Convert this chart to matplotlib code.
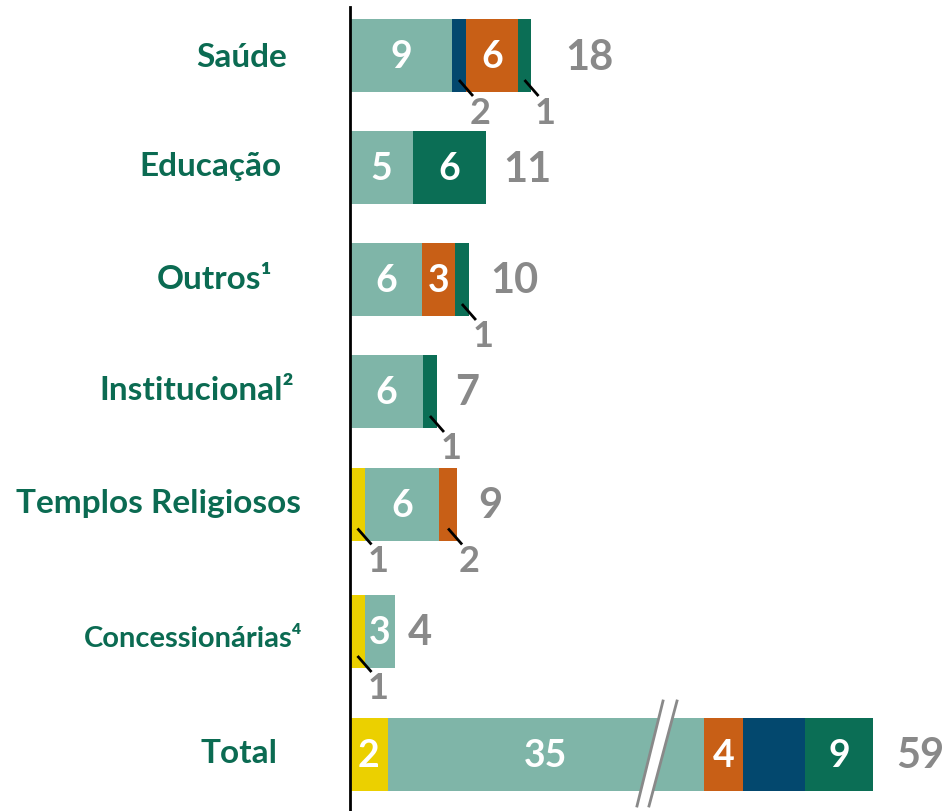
import matplotlib
matplotlib.use("Agg")
import matplotlib.pyplot as plt
from matplotlib.patches import Polygon

plt.rcParams["font.family"] = ["Lato", "DejaVu Sans"]
plt.rcParams["font.weight"] = "bold"

# %% data
categories = ["Saúde", "Educação", "Outros¹", "Institucional²",
              "Templos Religiosos", "Concessionárias⁴", "Total"]

# counts shown as labels (0 = no segment, None = segment without label)
yellow_n = [0, 0, 0, 0, 1, 1, 2]
teal_n = [9, 5, 6, 6, 6, 3, 35]
blue_n = [2, 0, 0, 0, 0, 0, None]
orange_n = [6, 0, 3, 0, 2, 0, 4]
green_n = [1, 6, 1, 1, 0, 0, 9]
totals = [18, 11, 10, 7, 9, 4, 59]

# drawn lengths of the segments (the total bar is broken)
yellow_w = [0, 0, 0, 0, 1.23, 1.23, 3.11]
teal_w = [8.36, 5.16, 5.90, 5.98, 6.07, 2.46, 25.9]
blue_w = [1.15, 0, 0, 0, 0, 0, 5.08]
orange_w = [4.26, 0, 2.70, 0, 1.48, 0, 3.2]
green_w = [1.07, 5.98, 1.15, 1.15, 0, 0, 5.57]

colors = {"yellow": "#EBD000", "teal": "#7FB5A8", "blue": "#03486E",
          "orange": "#C85F16", "green": "#0B6E55"}
grey = "#898989"
label_green = "#0B6B52"

# %% layout (pixels)
W, H = 946, 812
X0 = 350
PX = 12.2  # pixels per unit
y_c = [56.5, 168.5, 280.5, 392.5, 505, 632.5, 755.5]
bar_h = 73
cat_right = [287, 281, 272, 294, 301, 302, 277]
cat_base = [67, 176, 289, 400, 513, 647, 763]
cat_size = [24, 24, 24, 24, 24, 21, 24]
tot_gap = [34, 17, 21, 18, 21, 13, 23]


def u(px):
    return (px - X0) / PX


series_n = {"yellow": yellow_n, "teal": teal_n, "blue": blue_n,
            "orange": orange_n, "green": green_n}
series_w = {"yellow": yellow_w, "teal": teal_w, "blue": blue_w,
            "orange": orange_w, "green": green_w}
order_rows = ["yellow", "teal", "blue", "orange", "green"]
order_total = ["yellow", "teal", "orange", "blue", "green"]

fig = plt.figure(figsize=(W / 100, H / 100), dpi=100)
ax = fig.add_axes([X0 / W, 0, (W - X0) / W, 1])
ax.set_xlim(0, u(W))
ax.set_ylim(H, 0)
ax.set_xticks([])
ax.set_yticks([])
for s in ["top", "right", "bottom"]:
    ax.spines[s].set_visible(False)
ax.spines["left"].set_linewidth(2)
ax.spines["left"].set_bounds(8, H)

for i, cat in enumerate(categories):
    y = y_c[i]
    order = order_total if i == len(categories) - 1 else order_rows
    left = 0
    for key in order:
        w = series_w[key][i]
        if w == 0:
            continue
        n = series_n[key][i]
        ax.barh(y, w, left=left, height=bar_h, color=colors[key], linewidth=0, zorder=2)
        cx = left + w / 2
        if n is not None:
            if i < len(categories) - 1 and n <= 2:
                # leader line with label under the bar
                y0 = y + bar_h / 2 - 12
                x1, y1 = cx + u(X0 + 14), y0 + 16
                ax.plot([cx, x1], [y0, y1], color="black", lw=2, zorder=3,
                        solid_capstyle="butt", clip_on=False)
                ax.text(x1 + u(X0 + 7), y1 + 16, str(n), color=grey, fontsize=26,
                        ha="center", va="center", zorder=3)
            else:
                ax.text(cx, y + 1, str(n), color="white", fontsize=27,
                        ha="center", va="center", zorder=3)
        left += w
    ax.text(left + u(X0 + tot_gap[i]), y + 1, str(totals[i]), color=grey,
            fontsize=30, ha="left", va="center")
    ax.text(u(cat_right[i]), cat_base[i], cat, color=label_green, fontsize=cat_size[i],
            ha="right", va="baseline", clip_on=False)

# axis break on the total bar
brk = [(u(663), 702), (u(677), 702), (u(649), 807), (u(637), 807)]
ax.add_patch(Polygon(brk, closed=True, facecolor="white", edgecolor="none", zorder=4))
ax.plot([brk[0][0], brk[3][0]], [brk[0][1], brk[3][1]], color=grey, lw=2, zorder=5)
ax.plot([brk[1][0], brk[2][0]], [brk[1][1], brk[2][1]], color=grey, lw=2, zorder=5)

fig.savefig("out.png", dpi=100)
